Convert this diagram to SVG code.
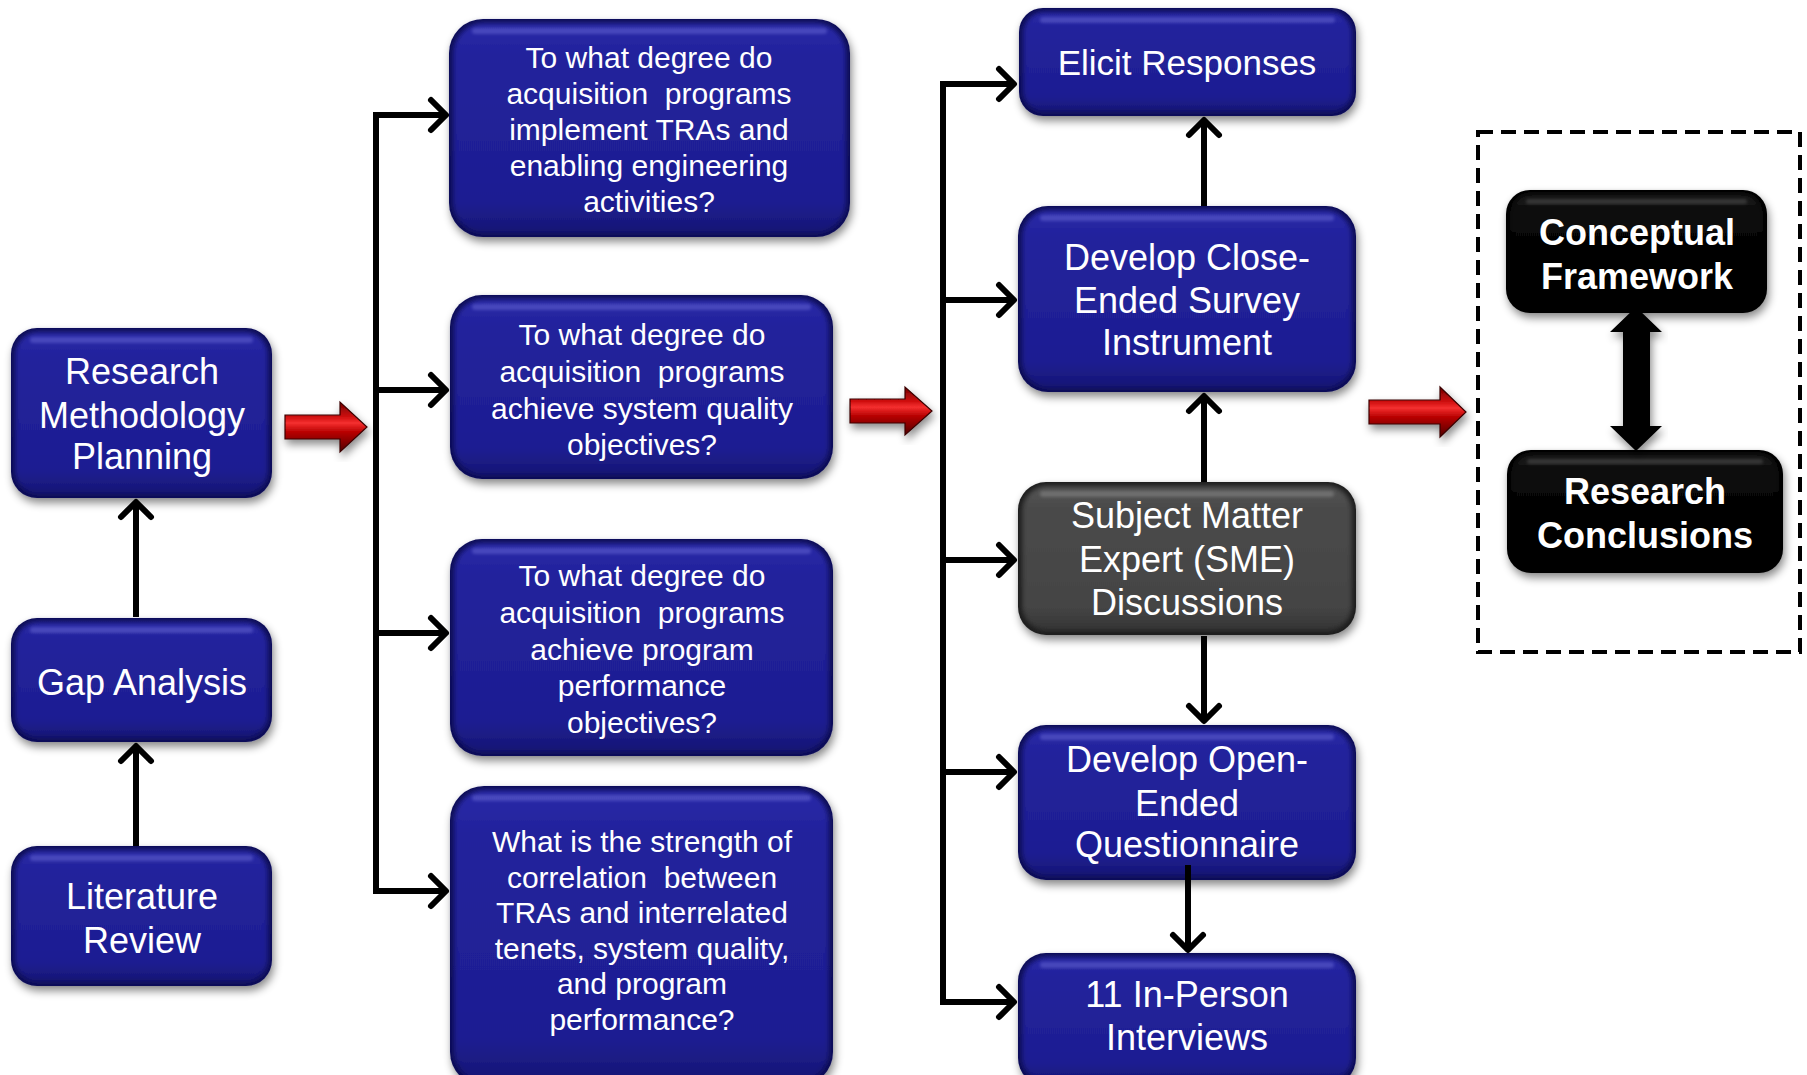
<svg xmlns="http://www.w3.org/2000/svg" width="1807" height="1075" viewBox="0 0 1807 1075">
  <defs>
    <style>
      .lbl { font-family: "Liberation Sans", Arial, sans-serif; fill: #ffffff; text-anchor: middle; }
      .s36 { font-size: 36px; }
      .s30 { font-size: 30px; }
      .bold { font-weight: bold; }
      .b-edge { fill: #0f0f55; filter: url(#shadow); }
      .b-face { fill: url(#blueFace); filter: url(#soft); }
      .g-edge { fill: #1e1e1e; filter: url(#shadow); }
      .g-face { fill: url(#greyFace); filter: url(#soft); }
      .k-edge { fill: #000000; filter: url(#shadow); }
      .k-face { fill: url(#blackFace); filter: url(#soft); }
      .gloss { fill: #7a7ae0; opacity: 0.4; filter: url(#soft1); }
      .g-gloss { fill: #9a9a9a; opacity: 0.4; filter: url(#soft1); }
      .k-gloss { fill: #555555; opacity: 0.5; filter: url(#soft1); }
      .trunk { fill: none; stroke: #000; stroke-width: 6; stroke-linecap: square; }
      .arr { fill: none; stroke: #000; stroke-width: 6; marker-end: url(#chev); }
      .red { fill: url(#redGrad); stroke: #3a0000; stroke-width: 1.2; filter: url(#shadow); }
    </style>
    <linearGradient id="blueFace" x1="0" y1="0" x2="0" y2="1">
      <stop offset="0" stop-color="#2a2aa8"/>
      <stop offset="0.15" stop-color="#22229c"/>
      <stop offset="0.85" stop-color="#1e1e92"/>
      <stop offset="1" stop-color="#161674"/>
    </linearGradient>
    <linearGradient id="greyFace" x1="0" y1="0" x2="0" y2="1">
      <stop offset="0" stop-color="#555555"/>
      <stop offset="0.15" stop-color="#4a4a4a"/>
      <stop offset="0.85" stop-color="#444444"/>
      <stop offset="1" stop-color="#333333"/>
    </linearGradient>
    <linearGradient id="blackFace" x1="0" y1="0" x2="0" y2="1">
      <stop offset="0" stop-color="#1a1a1a"/>
      <stop offset="0.2" stop-color="#080808"/>
      <stop offset="1" stop-color="#000000"/>
    </linearGradient>
    <linearGradient id="redGrad" x1="0" y1="0" x2="0" y2="1">
      <stop offset="0" stop-color="#700000"/>
      <stop offset="0.3" stop-color="#d01010"/>
      <stop offset="0.42" stop-color="#f53030"/>
      <stop offset="0.6" stop-color="#b80000"/>
      <stop offset="1" stop-color="#500000"/>
    </linearGradient>
    <filter id="shadow" x="-10%" y="-10%" width="120%" height="130%">
      <feDropShadow dx="2" dy="5" stdDeviation="4" flood-color="#000" flood-opacity="0.45"/>
    </filter>
    <filter id="soft" x="-5%" y="-5%" width="110%" height="110%">
      <feGaussianBlur stdDeviation="2.5"/>
    </filter>
    <filter id="soft1" x="-5%" y="-50%" width="110%" height="200%">
      <feGaussianBlur stdDeviation="1.5"/>
    </filter>
    <marker id="chev" viewBox="-20 -20 26 40" markerWidth="26" markerHeight="40" refX="0" refY="0" orient="auto" markerUnits="userSpaceOnUse" overflow="visible">
      <path d="M-15,-15 L0,0 L-15,15" fill="none" stroke="#000" stroke-width="6" stroke-linecap="round" stroke-linejoin="round"/>
    </marker>
  </defs>

  <rect width="1807" height="1075" fill="#ffffff"/>

  <!-- outcome boundary -->
  <rect x="1478" y="132" width="322" height="520" fill="none" stroke="#000" stroke-width="4" stroke-dasharray="15 8"/>

  <!-- left column -->
  <g id="research-methodology-planning">
    <rect class="b-edge" x="11" y="328" width="261" height="170" rx="26"/>
    <rect class="b-face" x="15" y="332" width="253" height="162" rx="23"/>
    <rect class="gloss" x="30" y="337" width="223" height="6" rx="3"/>
    <text class="lbl s36"><tspan x="142" y="384">Research</tspan><tspan x="142" y="428">Methodology</tspan><tspan x="142" y="469">Planning</tspan></text>
  </g>
  <g id="gap-analysis">
    <rect class="b-edge" x="11" y="618" width="261" height="124" rx="26"/>
    <rect class="b-face" x="15" y="622" width="253" height="116" rx="23"/>
    <rect class="gloss" x="30" y="627" width="223" height="6" rx="3"/>
    <text class="lbl s36"><tspan x="142" y="695">Gap Analysis</tspan></text>
  </g>
  <g id="literature-review">
    <rect class="b-edge" x="11" y="846" width="261" height="140" rx="26"/>
    <rect class="b-face" x="15" y="850" width="253" height="132" rx="23"/>
    <rect class="gloss" x="30" y="855" width="223" height="6" rx="3"/>
    <text class="lbl s36"><tspan x="142" y="909">Literature</tspan><tspan x="142" y="953">Review</tspan></text>
  </g>

  <!-- research questions -->
  <g id="rq1">
    <rect class="b-edge" x="449" y="19" width="401" height="218" rx="34"/>
    <rect class="b-face" x="453" y="23" width="393" height="210" rx="31"/>
    <rect class="gloss" x="472" y="28" width="355" height="6" rx="3"/>
    <text class="lbl s30"><tspan x="649" y="68">To what degree do</tspan><tspan x="649" y="104">acquisition &#160;programs</tspan><tspan x="649" y="140">implement TRAs and</tspan><tspan x="649" y="176">enabling engineering</tspan><tspan x="649" y="212">activities?</tspan></text>
  </g>
  <g id="rq2">
    <rect class="b-edge" x="450" y="295" width="383" height="184" rx="32"/>
    <rect class="b-face" x="454" y="299" width="375" height="176" rx="29"/>
    <rect class="gloss" x="472" y="304" width="339" height="6" rx="3"/>
    <text class="lbl s30"><tspan x="642" y="345">To what degree do</tspan><tspan x="642" y="382">acquisition &#160;programs</tspan><tspan x="642" y="419">achieve system quality</tspan><tspan x="642" y="455">objectives?</tspan></text>
  </g>
  <g id="rq3">
    <rect class="b-edge" x="450" y="539" width="383" height="217" rx="32"/>
    <rect class="b-face" x="454" y="543" width="375" height="209" rx="29"/>
    <rect class="gloss" x="472" y="548" width="339" height="6" rx="3"/>
    <text class="lbl s30"><tspan x="642" y="586">To what degree do</tspan><tspan x="642" y="623">acquisition &#160;programs</tspan><tspan x="642" y="660">achieve program</tspan><tspan x="642" y="696">performance</tspan><tspan x="642" y="733">objectives?</tspan></text>
  </g>
  <g id="rq4">
    <rect class="b-edge" x="450" y="786" width="383" height="300" rx="34"/>
    <rect class="b-face" x="454" y="790" width="375" height="292" rx="31"/>
    <rect class="gloss" x="472" y="795" width="339" height="6" rx="3"/>
    <text class="lbl s30"><tspan x="642" y="852">What is the strength of</tspan><tspan x="642" y="888">correlation &#160;between</tspan><tspan x="642" y="923">TRAs and interrelated</tspan><tspan x="642" y="959">tenets, system quality,</tspan><tspan x="642" y="994">and program</tspan><tspan x="642" y="1030">performance?</tspan></text>
  </g>

  <!-- data collection -->
  <g id="elicit-responses">
    <rect class="b-edge" x="1019" y="8" width="337" height="108" rx="24"/>
    <rect class="b-face" x="1023" y="12" width="329" height="100" rx="21"/>
    <rect class="gloss" x="1040" y="17" width="295" height="6" rx="3"/>
    <text class="lbl s36" style="font-size:35px"><tspan x="1187" y="75">Elicit Responses</tspan></text>
  </g>
  <g id="close-ended-survey">
    <rect class="b-edge" x="1018" y="206" width="338" height="186" rx="30"/>
    <rect class="b-face" x="1022" y="210" width="330" height="178" rx="27"/>
    <rect class="gloss" x="1040" y="215" width="294" height="6" rx="3"/>
    <text class="lbl s36"><tspan x="1187" y="270">Develop Close-</tspan><tspan x="1187" y="313">Ended Survey</tspan><tspan x="1187" y="355">Instrument</tspan></text>
  </g>
  <g id="sme-discussions">
    <rect class="g-edge" x="1018" y="482" width="338" height="153" rx="28"/>
    <rect class="g-face" x="1022" y="486" width="330" height="145" rx="25"/>
    <rect class="g-gloss" x="1040" y="491" width="294" height="6" rx="3"/>
    <text class="lbl s36"><tspan x="1187" y="528">Subject Matter</tspan><tspan x="1187" y="572">Expert (SME)</tspan><tspan x="1187" y="615">Discussions</tspan></text>
  </g>
  <g id="open-ended-questionnaire">
    <rect class="b-edge" x="1018" y="725" width="338" height="155" rx="28"/>
    <rect class="b-face" x="1022" y="729" width="330" height="147" rx="25"/>
    <rect class="gloss" x="1040" y="734" width="294" height="6" rx="3"/>
    <text class="lbl s36"><tspan x="1187" y="772">Develop Open-</tspan><tspan x="1187" y="816">Ended</tspan><tspan x="1187" y="857">Questionnaire</tspan></text>
  </g>
  <g id="in-person-interviews">
    <rect class="b-edge" x="1018" y="953" width="338" height="133" rx="28"/>
    <rect class="b-face" x="1022" y="957" width="330" height="125" rx="25"/>
    <rect class="gloss" x="1040" y="962" width="294" height="6" rx="3"/>
    <text class="lbl s36"><tspan x="1187" y="1007">11 In-Person</tspan><tspan x="1187" y="1050">Interviews</tspan></text>
  </g>

  <!-- outcomes -->
  <g id="conceptual-framework">
    <rect class="k-edge" x="1506" y="190" width="261" height="123" rx="24"/>
    <rect class="k-face" x="1510" y="194" width="253" height="115" rx="21"/>
    <rect class="k-gloss" x="1526" y="199" width="221" height="5" rx="2.5"/>
    <text class="lbl s36 bold"><tspan x="1637" y="245">Conceptual</tspan><tspan x="1637" y="289">Framework</tspan></text>
  </g>
  <g id="research-conclusions">
    <rect class="k-edge" x="1507" y="450" width="276" height="123" rx="24"/>
    <rect class="k-face" x="1511" y="454" width="268" height="115" rx="21"/>
    <rect class="k-gloss" x="1527" y="459" width="236" height="5" rx="2.5"/>
    <text class="lbl s36 bold"><tspan x="1645" y="504">Research</tspan><tspan x="1645" y="548">Conclusions</tspan></text>
  </g>

  <!-- connectors, drawn over the boxes -->
  <g id="connectors">
    <!-- left column, bottom-up -->
    <path class="arr" d="M136,846 V746"/>
    <path class="arr" d="M136,617 V502"/>
    <!-- fan-out to the research questions -->
    <path class="trunk" d="M376,115 V891"/>
    <path class="arr" d="M376,115 H446"/>
    <path class="arr" d="M376,390 H446"/>
    <path class="arr" d="M376,633 H446"/>
    <path class="arr" d="M376,891 H446"/>
    <!-- fan-out to the data collection steps -->
    <path class="trunk" d="M943,84 V1002"/>
    <path class="arr" d="M943,84 H1014"/>
    <path class="arr" d="M943,300 H1014"/>
    <path class="arr" d="M943,560 H1014"/>
    <path class="arr" d="M943,772 H1014"/>
    <path class="arr" d="M943,1002 H1014"/>
    <!-- data collection sequence -->
    <path class="arr" d="M1204,206 V120"/>
    <path class="arr" d="M1204,482 V396"/>
    <path class="arr" d="M1204,636 V721"/>
    <path class="arr" d="M1188,865 V950"/>
    <!-- stage arrows -->
    <path class="red" d="M285,415 H340 V402 L367,427 L340,452 V439 H285 Z"/>
    <path class="red" d="M850,399 H905 V387 L932,411 L905,435 V423 H850 Z"/>
    <path class="red" d="M1369,400 H1440 V387 L1466,412 L1440,437 V424 H1369 Z"/>
    <!-- framework / conclusions link -->
    <path d="M1636,307 L1662,332 H1650 V426 H1662 L1636,451 L1610,426 H1623 V332 H1610 Z" fill="#000" filter="url(#shadow)"/>
  </g>
</svg>
